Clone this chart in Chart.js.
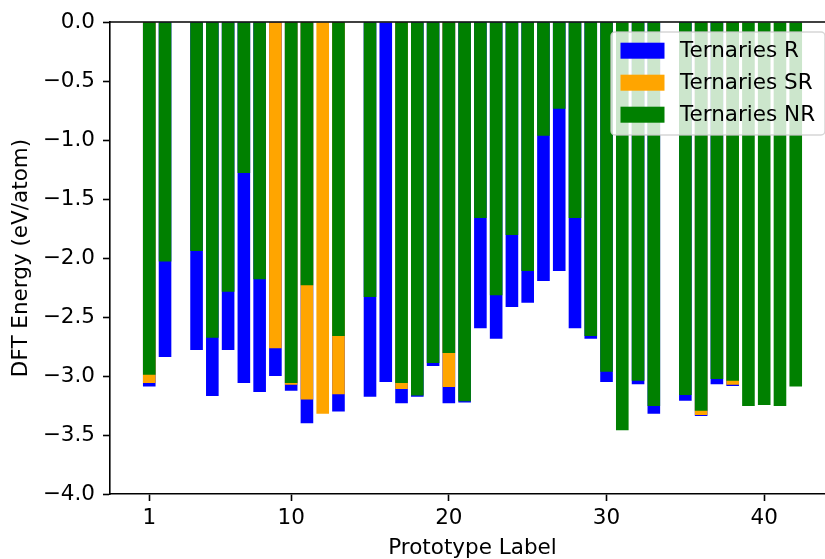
<!DOCTYPE html>
<html>
<head>
<meta charset="utf-8">
<script src="https://cdn.jsdelivr.net/npm/chart.js@4.4.0/dist/chart.umd.min.js"></script>
<style>
    html, body { margin: 0; padding: 0; background: #fff; overflow: hidden; }
    #wrap { width: 825px; height: 559px; overflow: hidden; }
</style>
</head>
<body>
<div id="wrap"><canvas id="energyChart" width="835" height="559"></canvas></div>
<script>
// prototype labels (3, 14 and 34 have no entries)
const protoLabels = [1, 2, 4, 5, 6, 7, 8, 9, 10, 11, 12, 13, 15, 16, 17, 18, 19, 20, 21, 22, 23, 24, 25, 26, 27, 28, 29, 30, 31, 32, 33, 35, 36, 37, 38, 39, 40, 41, 42];

// DFT energies (eV/atom), one value per prototype label
const energyR = [-3.09, -2.84, -2.78, -3.17, -2.78, -3.06, -3.135, -3.00, -3.125, -3.40, null, -3.30,
    -3.175, -3.05, -3.23, -3.175, -2.915, -3.23, -3.225, -2.595, -2.685, -2.415, -2.38, -2.195, -2.11, -2.595, -2.685,
    -3.05, null, -3.07, -3.32, -3.21, -3.34, -3.07, -3.085, null, null, null, null];
const energySR = [-3.06, null, null, null, null, null, null, -2.765, -3.075, -3.20, -3.32, -3.155,
    null, null, -3.11, null, null, -3.093, null, null, null, null, null, null, null, null, null,
    null, null, null, null, null, -3.33, null, -3.075, null, null, null, null];
const energyNR = [-2.99, -2.03, -1.94, -2.675, -2.285, -1.28, -2.18, null, -3.06, -2.23, null, -2.66,
    -2.33, null, -3.06, -3.165, -2.89, -2.805, -3.215, -1.66, -2.315, -1.805, -2.11, -0.965, -0.735, -1.66, -2.66,
    -2.965, -3.46, -3.04, -3.255, -3.16, -3.295, -3.025, -3.04, -3.255, -3.245, -3.255, -3.09];

const xTicks = [1, 10, 20, 30, 40];
const yTicks = [0, -0.5, -1, -1.5, -2, -2.5, -3, -3.5, -4];

const seriesNames = ['Ternaries R', 'Ternaries SR', 'Ternaries NR'];
const seriesColors = ['#0000ff', '#ffa500', '#008000'];

Chart.defaults.font.family = 'DejaVu Sans';
Chart.defaults.font.size = 21.5;
Chart.defaults.color = '#000';

function toPoints(values) {
    return protoLabels.map((x, i) => ({ x: x, y: values[i] }));
}

function fmtTick(v) {
    if (v === 0) return '0.0';
    return (v < 0 ? '\u2212' : '') + Math.abs(v).toFixed(1);
}

// legend box inside the plot, like matplotlib's upper right legend
const insideLegend = {
    id: 'insideLegend',
    afterDatasetsDraw(chart) {
        const ctx = chart.ctx;
        const area = chart.chartArea;
        const w = 214, h = 103;
        const x0 = area.right - 10 - w;
        const y0 = area.top + 10;
        ctx.save();
        ctx.beginPath();
        ctx.roundRect(x0, y0, w, h, 4);
        ctx.fillStyle = 'rgba(255,255,255,0.8)';
        ctx.fill();
        ctx.lineWidth = 1.5;
        ctx.strokeStyle = 'rgba(204,204,204,0.8)';
        ctx.stroke();
        ctx.font = '21.5px "DejaVu Sans"';
        ctx.textBaseline = 'middle';
        seriesNames.forEach((name, i) => {
            const cy = y0 + 18.7 + i * 32;
            ctx.fillStyle = seriesColors[i];
            ctx.fillRect(x0 + 9.5, cy - 8, 44, 16);
            ctx.fillStyle = '#000';
            ctx.fillText(name, x0 + 69, cy + 1);
        });
        ctx.restore();
    },
    afterDraw(chart) {
        // top spine
        const ctx = chart.ctx;
        const area = chart.chartArea;
        ctx.save();
        ctx.strokeStyle = '#000';
        ctx.lineWidth = 1.6;
        ctx.beginPath();
        ctx.moveTo(area.left - 0.8, area.top);
        ctx.lineTo(area.right, area.top);
        ctx.stroke();
        ctx.restore();
    }
};

const ctx = document.getElementById('energyChart').getContext('2d');
const energyChart = new Chart(ctx, {
    type: 'bar',
    data: {
        datasets: [
            { label: seriesNames[0], data: toPoints(energyR), backgroundColor: seriesColors[0], order: 3 },
            { label: seriesNames[1], data: toPoints(energySR), backgroundColor: seriesColors[1], order: 2 },
            { label: seriesNames[2], data: toPoints(energyNR), backgroundColor: seriesColors[2], order: 1 }
        ]
    },
    options: {
        responsive: false,
        animation: false,
        devicePixelRatio: 1,
        grouped: false,
        barPercentage: 0.8,
        categoryPercentage: 1.0,
        layout: {
            padding: { top: 22, right: 0, bottom: 0, left: 0 }
        },
        plugins: {
            legend: { display: false },
            tooltip: { enabled: false }
        },
        scales: {
            x: {
                type: 'linear',
                offset: false,
                min: -1.49,
                max: 44.49,
                afterBuildTicks: axis => { axis.ticks = xTicks.map(v => ({ value: v })); },
                afterFit: axis => { axis.height = 65; },
                ticks: { padding: 5, maxRotation: 0, autoSkip: false, callback: v => String(v) },
                grid: { offset: false, drawOnChartArea: false, tickLength: 7, tickWidth: 1.6, color: '#000' },
                border: { display: true, color: '#000', width: 1.6 },
                title: { display: true, text: 'Prototype Label', font: { size: 21.5, lineHeight: 1 }, padding: { top: 0, bottom: 0 } }
            },
            y: {
                min: -4,
                max: 0,
                afterBuildTicks: axis => { axis.ticks = yTicks.map(v => ({ value: v })); },
                afterFit: axis => { axis.width = 110; },
                ticks: { padding: 8, callback: v => fmtTick(v) },
                grid: { drawOnChartArea: false, tickLength: 7, tickWidth: 1.6, color: '#000' },
                border: { display: true, color: '#000', width: 1.6 },
                title: { display: true, text: 'DFT Energy (eV/atom)', font: { size: 21.5, lineHeight: 1 }, padding: { top: 11, bottom: 0 } }
            }
        }
    },
    plugins: [insideLegend]
});
</script>
</body>
</html>
